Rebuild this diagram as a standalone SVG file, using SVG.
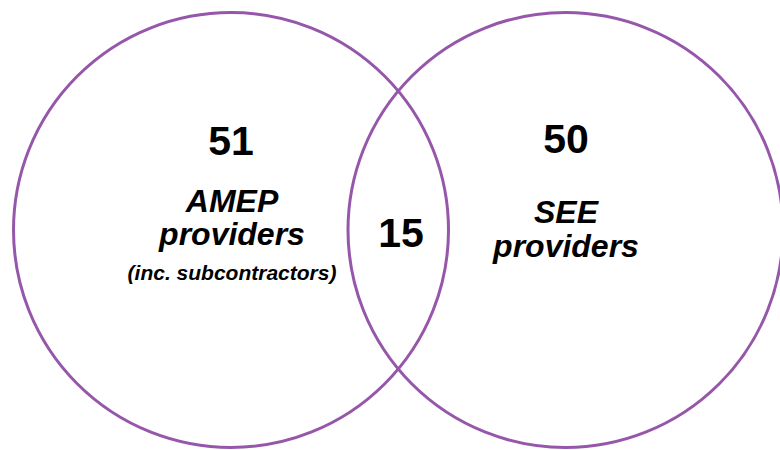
<svg xmlns="http://www.w3.org/2000/svg" width="780" height="450" viewBox="0 0 780 450">
<style>
.c{fill:none;stroke:#9657AA;stroke-width:3}
.n{font-family:"Liberation Sans",Arial,sans-serif;font-weight:bold;font-size:41px;fill:#000;text-anchor:middle}
.l{font-family:"Liberation Sans",Arial,sans-serif;font-weight:bold;font-style:italic;font-size:32px;fill:#000;text-anchor:middle}
.s{font-family:"Liberation Sans",Arial,sans-serif;font-weight:bold;font-style:italic;font-size:21px;fill:#000;text-anchor:middle}
</style>
<rect width="780" height="450" fill="#fff"/>
<g id="amep">
<circle class="c" cx="231" cy="230" r="217.5"/>
<text class="n" x="231" y="155">51</text>
<text class="l" x="232" y="212">AMEP</text>
<text class="l" x="232" y="245">providers</text>
<text class="s" x="232" y="280">(inc. subcontractors)</text>
</g>
<g id="see">
<circle class="c" cx="565.5" cy="230" r="217.5"/>
<text class="n" x="566" y="153">50</text>
<text class="l" x="566" y="223">SEE</text>
<text class="l" x="566" y="257">providers</text>
</g>
<g id="overlap">
<text class="n" x="401" y="247">15</text>
</g>
</svg>
